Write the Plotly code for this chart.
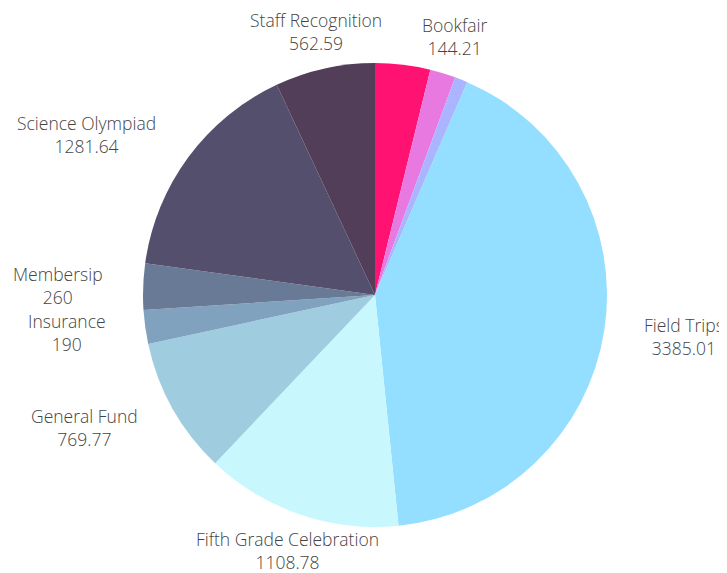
import math
import plotly.graph_objects as go

labels = ["Hospitality", "Bookfair", "Other", "Field Trips", "Fifth Grade Celebration",
          "General Fund", "Insurance", "Membersip", "Science Olympiad", "Staff Recognition"]
values = [310, 144.21, 72, 3385.01, 1108.78, 769.77, 190, 260, 1281.64, 562.59]
show_label = [False, True, False, True, True, True, True, True, True, True]
colors = ["#FF1271", "#E879E1", "#AAB4FF", "#94DEFF", "#C8F8FE",
          "#A0CCDF", "#81A2BE", "#697A96", "#554F6E", "#523E58"]

fig = go.Figure(go.Pie(
    labels=labels,
    values=values,
    sort=False,
    direction="clockwise",
    rotation=0,
    marker=dict(colors=colors, line=dict(width=0)),
    textinfo="none",
    showlegend=False,
    hoverinfo="label+value",
))

# label placement around the pie, derived from each slice's mid-angle
PLOT_PX = 464.0      # size of the square plot area in px
LABEL_R = 270.0      # label distance from pie centre in px
total = sum(values)
cum = 0.0
annotations = []
for lab, v, show in zip(labels, values, show_label):
    mid = (cum + v / 2) / total * 2 * math.pi
    cum += v
    if not show:
        continue
    ux, uy = math.sin(mid), math.cos(mid)
    if ux > 0.5:
        xa = "left"
    elif ux < -0.5:
        xa = "right"
    else:
        xa = "center"
    annotations.append(dict(
        x=0.5 + LABEL_R * ux / PLOT_PX,
        y=0.5 + LABEL_R * uy / PLOT_PX,
        xref="paper", yref="paper",
        text=f"{lab}<br>{v:g}",
        showarrow=False,
        xanchor=xa, yanchor="middle",
        font=dict(family="Open Sans", size=17.5, color="#444", weight=300),
    ))

fig.update_layout(
    width=727, height=573,
    margin=dict(l=135, r=128, t=55, b=54),
    paper_bgcolor="white",
    plot_bgcolor="white",
    font=dict(family="Open Sans", color="#444"),
    annotations=annotations,
)

fig.write_html("out.html")
